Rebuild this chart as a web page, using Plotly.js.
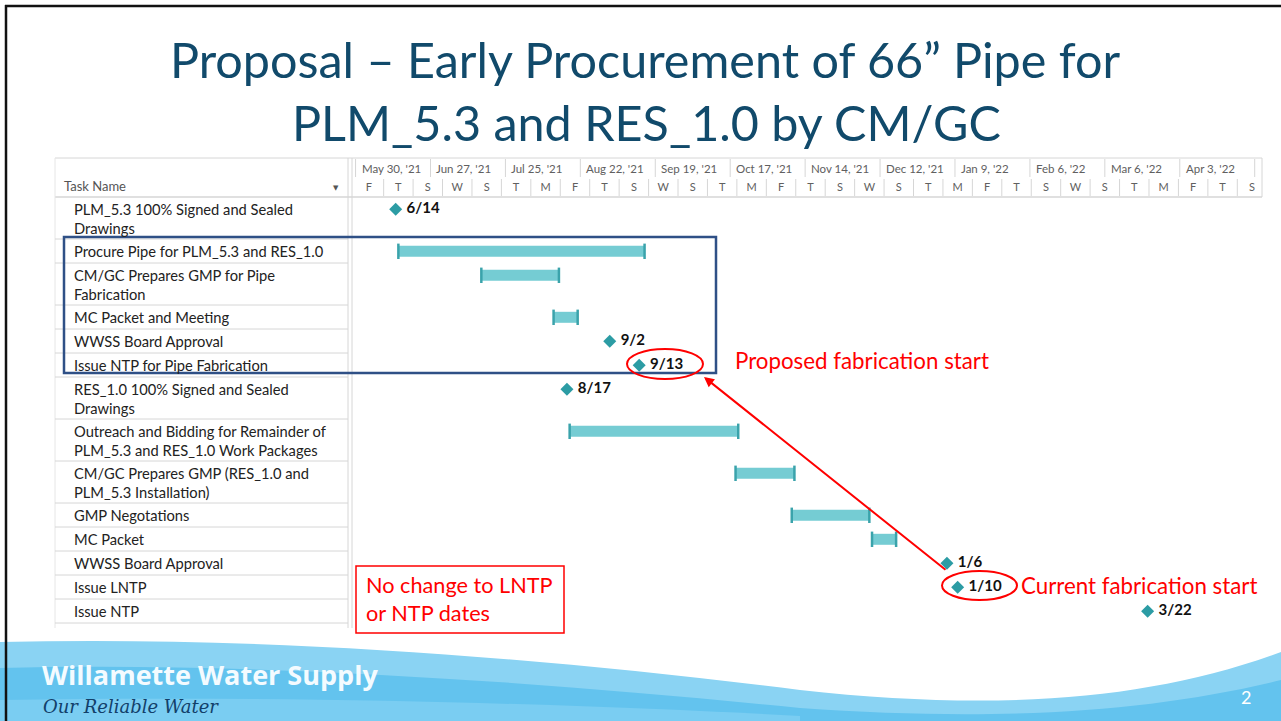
<!DOCTYPE html>
<html>
<head>
<meta charset="utf-8">
<script src="https://cdn.plot.ly/plotly-3.0.1.min.js"></script>
<style>
  html, body { margin: 0; padding: 0; background: #ffffff; }
  #chart { width: 1281px; height: 721px; }
</style>
</head>
<body>
<div id="chart"></div>
<script>
// ---------------- DATA ----------------
const taskNames = [
  'PLM_5.3 100% Signed and Sealed<br>Drawings',
  'Procure Pipe for PLM_5.3 and RES_1.0',
  'CM/GC Prepares GMP for Pipe<br>Fabrication',
  'MC Packet and Meeting',
  'WWSS Board Approval',
  'Issue NTP for Pipe Fabrication',
  'RES_1.0 100% Signed and Sealed<br>Drawings',
  'Outreach and Bidding for Remainder of<br>PLM_5.3 and RES_1.0 Work Packages',
  'CM/GC Prepares GMP (RES_1.0 and<br>PLM_5.3 Installation)',
  'GMP Negotations',
  'MC Packet',
  'WWSS Board Approval',
  'Issue LNTP',
  'Issue NTP'
];
const taskType = ['milestone','bar','bar','bar','milestone','milestone','milestone',
                  'bar','bar','bar','bar','milestone','milestone','milestone'];
const taskStart = ['2021-06-14','2021-06-15','2021-07-16','2021-08-12','2021-09-02','2021-09-13','2021-08-17',
                   '2021-08-18','2021-10-19','2021-11-09','2021-12-09','2022-01-06','2022-01-10','2022-03-22'];
const taskFinish = ['2021-06-14','2021-09-15','2021-08-14','2021-08-21','2021-09-02','2021-09-13','2021-08-17',
                    '2021-10-20','2021-11-10','2021-12-08','2021-12-18','2022-01-06','2022-01-10','2022-03-22'];
const milestoneLabels = ['6/14','','','','9/2','9/13','8/17','','','','','1/6','1/10','3/22'];

const majorTickDates = ['2021-05-30','2021-06-27','2021-07-25','2021-08-22','2021-09-19','2021-10-17',
                        '2021-11-14','2021-12-12','2022-01-09','2022-02-06','2022-03-06','2022-04-03','2022-05-01'];
const majorTickLabels = ["May 30, '21","Jun 27, '21","Jul 25, '21","Aug 22, '21","Sep 19, '21","Oct 17, '21",
                         "Nov 14, '21","Dec 12, '21","Jan 9, '22","Feb 6, '22","Mar 6, '22","Apr 3, '22",""];
const minorTickLabels = ['F','T','S','W','S','T','M','F','T','S','W','S','T','M','F','T',
                         'S','W','S','T','M','F','T','S','W','S','T','M','F','T','S'];
const minorTickFirst = '2021-06-04';

// ---------------- LAYOUT HELPERS ----------------
const W = 1281, H = 721;
const M = {l: 352, r: 19, t: 197, b: 93};
const PW = W - M.l - M.r, PH = H - M.t - M.b;
const px = x => (x - M.l) / PW;           // pixel x -> paper x
const py = y => (H - M.b - y) / PH;       // pixel y -> paper y
const DAY = 86400000;
const toMs = s => new Date(s + 'T00:00:00Z').getTime();
const fmt = ms => new Date(ms).toISOString().slice(0, 19).replace('T', ' ');

function pathPx(str) {
  const toks = str.trim().split(/\s+/);
  let out = [], isX = true;
  toks.forEach(t => {
    if (/^[A-Za-z]$/.test(t)) { out.push(t); isX = true; }
    else { const v = parseFloat(t); out.push((isX ? px(v) : py(v)).toFixed(5)); isX = !isX; }
  });
  return out.join(' ');
}

// row geometry (y axis in pixel units below header)
const rowTop = [], rowH = [];
let acc = 0;
taskNames.forEach(n => {
  const lines = n.split('<br>').length;
  const h = 6 + 18 * lines;
  rowTop.push(acc); rowH.push(h); acc += h;
});
const rowMark = rowTop.map(t => t + 12.3);

// ---------------- TRACES ----------------
const barIdx = taskType.map((t, i) => t === 'bar' ? i : -1).filter(i => i >= 0);
const msIdx = taskType.map((t, i) => t === 'milestone' ? i : -1).filter(i => i >= 0);

const barTrace = {
  type: 'bar', orientation: 'h',
  base: barIdx.map(i => taskStart[i]),
  x: barIdx.map(i => toMs(taskFinish[i]) - toMs(taskStart[i])),
  y: barIdx.map(i => rowMark[i]),
  width: 11,
  marker: {color: '#75CCD3', line: {width: 0}},
  hoverinfo: 'skip', showlegend: false
};
const capTrace = {
  type: 'scatter', mode: 'markers',
  x: barIdx.map(i => taskStart[i]).concat(barIdx.map(i => taskFinish[i])),
  y: barIdx.map(i => rowMark[i]).concat(barIdx.map(i => rowMark[i])),
  marker: {symbol: 'line-ns', size: 11, line: {width: 2.5, color: '#3AA3AB'}},
  hoverinfo: 'skip', showlegend: false, cliponaxis: false
};
const msTrace = {
  type: 'scatter', mode: 'markers+text',
  x: msIdx.map(i => taskStart[i]),
  y: msIdx.map(i => rowMark[i]),
  text: msIdx.map(i => ' ' + milestoneLabels[i]),
  textposition: 'middle right',
  textfont: {family: 'Lato, sans-serif', size: 15, color: '#111111', weight: 'bold'},
  marker: {symbol: 'diamond', size: 10, color: '#2C9CA4'},
  hoverinfo: 'skip', showlegend: false, cliponaxis: false
};

// minor tick positions (11-day timescale units)
const minorVals = minorTickLabels.map((_, i) => fmt(toMs(minorTickFirst) + i * 11 * DAY));

// ---------------- SHAPES ----------------
const gridC = '#D6D6D6';
const shapes = [];
// waves (footer)
shapes.push({type: 'path', xref: 'paper', yref: 'paper', layer: 'below', line: {width: 0},
  fillcolor: '#8AD3F3',
  path: pathPx('M 0 642 C 250 636 520 655 800 690 C 1000 712 1150 700 1281 652 L 1281 721 L 0 721 Z')});
shapes.push({type: 'path', xref: 'paper', yref: 'paper', layer: 'below', line: {width: 0},
  fillcolor: '#63C3EE',
  path: pathPx('M 0 668 C 250 662 520 680 800 708 C 1000 722 1150 712 1281 680 L 1281 721 L 0 721 Z')});
shapes.push({type: 'path', xref: 'paper', yref: 'paper', layer: 'below', line: {width: 0},
  fillcolor: '#7ACDF2',
  path: pathPx('M 0 700 C 300 695 600 705 800 716 L 800 721 L 0 721 Z')});

// table outline and header
shapes.push({type: 'line', xref: 'paper', yref: 'paper', x0: px(55), x1: px(1262), y0: py(158), y1: py(158), line: {color: gridC, width: 1}});
shapes.push({type: 'line', xref: 'paper', yref: 'paper', x0: px(55), x1: px(1262), y0: py(197), y1: py(197), line: {color: gridC, width: 1.5}});
shapes.push({type: 'line', xref: 'paper', yref: 'paper', x0: px(55), x1: px(55), y0: py(158), y1: py(628), line: {color: '#E6E6E6', width: 1}});
shapes.push({type: 'line', xref: 'paper', yref: 'paper', x0: px(348), x1: px(348), y0: py(158), y1: py(628), line: {color: gridC, width: 1}});
shapes.push({type: 'line', xref: 'paper', yref: 'paper', x0: px(352), x1: px(352), y0: py(158), y1: py(628), line: {color: gridC, width: 1}});
shapes.push({type: 'line', xref: 'paper', yref: 'paper', x0: px(1262), x1: px(1262), y0: py(158), y1: py(197), line: {color: gridC, width: 1}});
rowTop.forEach((t, i) => {
  const yb = t + rowH[i];
  shapes.push({type: 'line', xref: 'paper', yref: 'y', x0: px(55), x1: px(348), y0: yb, y1: yb, line: {color: gridC, width: 1}});
});
// timescale dividers
majorTickDates.forEach(d => {
  shapes.push({type: 'line', xref: 'x', yref: 'paper', x0: d, x1: d, y0: py(177), y1: py(159), line: {color: gridC, width: 1}});
});
minorVals.forEach(v => {
  const d = fmt(new Date(v.replace(' ', 'T') + 'Z').getTime() + 5.5 * DAY);
  shapes.push({type: 'line', xref: 'x', yref: 'paper', x0: d, x1: d, y0: py(196), y1: py(179), line: {color: gridC, width: 1}});
});

// highlight box, ellipses, note box
shapes.push({type: 'rect', xref: 'paper', yref: 'paper', layer: 'above', x0: px(64), x1: px(716), y0: py(237), y1: py(373),
  line: {color: '#2F5086', width: 2.5}, fillcolor: 'rgba(0,0,0,0)'});
shapes.push({type: 'circle', xref: 'paper', yref: 'paper', layer: 'above', x0: px(627), x1: px(703), y0: py(349), y1: py(379),
  line: {color: '#FF0000', width: 2}, fillcolor: 'rgba(0,0,0,0)'});
shapes.push({type: 'circle', xref: 'paper', yref: 'paper', layer: 'above', x0: px(942), x1: px(1017), y0: py(571), y1: py(600),
  line: {color: '#FF0000', width: 2}, fillcolor: 'rgba(0,0,0,0)'});
shapes.push({type: 'rect', xref: 'paper', yref: 'paper', layer: 'above', x0: px(356), x1: px(564), y0: py(566), y1: py(633),
  line: {color: '#FF0000', width: 1.5}, fillcolor: '#FFFFFF'});
// slide border
shapes.push({type: 'line', xref: 'paper', yref: 'paper', layer: 'above', x0: px(6), x1: px(6), y0: py(5), y1: py(721), line: {color: '#111111', width: 2.5}});
shapes.push({type: 'line', xref: 'paper', yref: 'paper', layer: 'above', x0: px(5), x1: px(1281), y0: py(6), y1: py(6), line: {color: '#111111', width: 2.5}});

// ---------------- ANNOTATIONS ----------------
const ann = [];
const titleFont = {family: 'Lato, "Open Sans", sans-serif', size: 48.5, color: '#114A6B'};
ann.push({text: 'Proposal \u2013 Early Procurement of 66\u201D Pipe for', xref: 'paper', yref: 'paper',
  x: px(645), y: py(59), xanchor: 'center', yanchor: 'middle', showarrow: false, font: titleFont});
ann.push({text: 'PLM_5.3 and RES_1.0 by CM/GC', xref: 'paper', yref: 'paper',
  x: px(646), y: py(122), xanchor: 'center', yanchor: 'middle', showarrow: false, font: titleFont});

const tblFont = {family: 'Lato, sans-serif', size: 14.7, color: '#222222'};
taskNames.forEach((n, i) => {
  ann.push({text: n, xref: 'paper', yref: 'y', x: px(72), y: rowTop[i] + 0.5, xanchor: 'left', yanchor: 'top',
    align: 'left', showarrow: false, font: tblFont});
});
ann.push({text: 'Task Name', xref: 'paper', yref: 'paper', x: px(62), y: py(186), xanchor: 'left', yanchor: 'middle',
  showarrow: false, font: {family: 'Lato, sans-serif', size: 13, color: '#555555'}});
ann.push({text: '\u25BC', xref: 'paper', yref: 'paper', x: px(336), y: py(188), xanchor: 'center', yanchor: 'middle',
  showarrow: false, font: {family: 'DejaVu Sans, sans-serif', size: 7, color: '#555555'}});
majorTickDates.forEach((d, i) => {
  if (!majorTickLabels[i]) return;
  ann.push({text: majorTickLabels[i], xref: 'x', yref: 'paper', x: d, xshift: 4, y: py(168.5), xanchor: 'left', yanchor: 'middle',
    showarrow: false, font: {family: 'Lato, sans-serif', size: 11.5, color: '#606060'}});
});

const redFont = {family: 'Lato, sans-serif', size: 22.3, color: '#FF0000'};
ann.push({text: 'Proposed fabrication start', xref: 'paper', yref: 'paper', x: px(733), y: py(360), xanchor: 'left', yanchor: 'middle', showarrow: false, font: redFont});
ann.push({text: 'Current fabrication start', xref: 'paper', yref: 'paper', x: px(1019), y: py(585), xanchor: 'left', yanchor: 'middle', showarrow: false, font: redFont});
ann.push({text: 'No change to LNTP<br>or NTP dates', xref: 'paper', yref: 'paper', x: px(364), y: py(599), xanchor: 'left', yanchor: 'middle', align: 'left', showarrow: false,
  font: {family: 'Lato, sans-serif', size: 21.7, color: '#FF0000'}});
ann.push({text: '', xref: 'paper', yref: 'paper', x: px(704), y: py(377), showarrow: true, arrowhead: 2, arrowsize: 1,
  arrowwidth: 2, arrowcolor: '#FF0000', ax: 243, ay: 194, standoff: 0});

ann.push({text: '<b>Willamette Water Supply</b>', xref: 'paper', yref: 'paper', x: px(40), y: py(674), xanchor: 'left', yanchor: 'middle',
  showarrow: false, font: {family: '"Open Sans", sans-serif', size: 27, color: '#F4FBFF'}});
ann.push({text: '<i>Our Reliable Water</i>', xref: 'paper', yref: 'paper', x: px(41), y: py(706), xanchor: 'left', yanchor: 'middle',
  showarrow: false, font: {family: '"DejaVu Serif", serif', size: 18, color: '#12406A'}});
ann.push({text: '2', xref: 'paper', yref: 'paper', x: px(1246), y: py(697), xanchor: 'center', yanchor: 'middle',
  showarrow: false, font: {family: 'Lato, sans-serif', size: 18, color: '#FFFFFF'}});

// ---------------- LAYOUT ----------------
const layout = {
  width: W, height: H,
  margin: {l: M.l, r: M.r, t: M.t, b: M.b, pad: 0},
  paper_bgcolor: '#FFFFFF', plot_bgcolor: 'rgba(0,0,0,0)',
  showlegend: false,
  barmode: 'overlay',
  xaxis: {
    type: 'date', range: ['2021-05-28 16:05', '2022-05-03 17:31'], side: 'top',
    tickmode: 'array', tickvals: minorVals, ticktext: minorTickLabels,
    ticks: '', ticklen: 0, ticklabelstandoff: 3, showgrid: false, zeroline: false, showline: false,
    tickfont: {family: 'Lato, sans-serif', size: 11, color: '#606060'}, fixedrange: true
  },
  yaxis: {range: [PH, 0], visible: false, showgrid: false, zeroline: false, fixedrange: true},
  shapes: shapes, annotations: ann
};

Plotly.newPlot('chart', [barTrace, capTrace, msTrace], layout, {displayModeBar: false, staticPlot: true});
</script>
</body>
</html>
